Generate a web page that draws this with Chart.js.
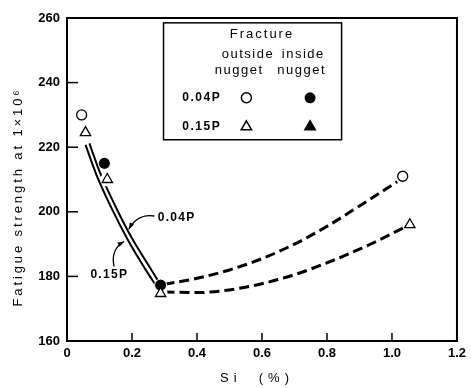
<!DOCTYPE html>
<html>
<head>
<meta charset="utf-8">
<script src="https://cdn.jsdelivr.net/npm/chart.js@4.4.1/dist/chart.umd.min.js"></script>
<style>
html, body { margin: 0; padding: 0; background: #fff; }
#wrap { width: 471px; height: 388px; }
</style>
</head>
<body>
<div id="wrap"><canvas id="myChart"></canvas></div>
<script>
const xTicks = [0, 0.2, 0.4, 0.6, 0.8, 1.0, 1.2];
const yTicks = [160, 180, 200, 220, 240, 260];

// test points
const out04X = [0.045, 1.033];
const out04Y = [230, 211];
const in04X = [0.115, 0.288];
const in04Y = [215, 177.3];
const out15X = [0.057, 0.124, 0.288, 1.055];
const out15Y = [224.5, 210, 174.7, 196];

// fitted curves
const solid04X = [0.069, 0.10, 0.15, 0.20, 0.25, 0.284];
const solid04Y = [221.2, 212.5, 201.5, 191.8, 183.6, 178.0];
const solid15X = [0.057, 0.09, 0.14, 0.19, 0.24, 0.276];
const solid15Y = [220.7, 211.6, 200.5, 190.8, 182.4, 176.8];
const dash04X = [0.30, 0.40, 0.50, 0.60, 0.70, 0.80, 0.90, 1.016];
const dash04Y = [177.6, 179.4, 182.0, 185.5, 190.0, 195.5, 201.8, 209.3];
const dash15X = [0.30, 0.40, 0.53, 0.68, 0.82, 0.93, 1.035];
const dash15Y = [175.2, 175.0, 176.3, 179.9, 185.0, 189.8, 195.0];

const FONT = '"Liberation Sans", Arial, sans-serif';

function pts(xs, ys) {
    const out = [];
    for (let i = 0; i < xs.length; i++) {
        out.push({x: xs[i], y: ys[i]});
    }
    return out;
}

function curve(xs, ys, dash, width) {
    return {
        data: pts(xs, ys),
        showLine: true,
        borderColor: '#000',
        borderWidth: width,
        borderDash: dash,
        pointRadius: 0,
        cubicInterpolationMode: 'monotone',
        fill: false,
        order: 3
    };
}

function arrow(ctx, x, y, a, b, c) {
    // quadratic curve from a to c, with arrow head at c
    const s = [x.getPixelForValue(a[0]), y.getPixelForValue(a[1])];
    const k = [x.getPixelForValue(b[0]), y.getPixelForValue(b[1])];
    const t = [x.getPixelForValue(c[0]), y.getPixelForValue(c[1])];
    ctx.beginPath();
    ctx.moveTo(s[0], s[1]);
    ctx.quadraticCurveTo(k[0], k[1], t[0], t[1]);
    ctx.lineWidth = 1.3;
    ctx.stroke();
    const ang = Math.atan2(t[1] - k[1], t[0] - k[0]);
    ctx.beginPath();
    ctx.moveTo(t[0], t[1]);
    ctx.lineTo(t[0] - 7 * Math.cos(ang - 0.35), t[1] - 7 * Math.sin(ang - 0.35));
    ctx.lineTo(t[0] - 7 * Math.cos(ang + 0.35), t[1] - 7 * Math.sin(ang + 0.35));
    ctx.closePath();
    ctx.fill();
}

const extras = {
    id: 'extras',
    afterDraw(chart) {
        const ctx = chart.ctx;
        const x = chart.scales.x;
        const y = chart.scales.y;
        const a = chart.chartArea;
        ctx.save();
        ctx.strokeStyle = '#000';
        ctx.fillStyle = '#000';

        // frame
        ctx.lineWidth = 2;
        ctx.strokeRect(a.left, a.top, a.right - a.left, a.bottom - a.top);

        // inward ticks
        ctx.lineWidth = 1.5;
        for (let i = 1; i < yTicks.length - 1; i++) {
            const py = y.getPixelForValue(yTicks[i]);
            ctx.beginPath();
            ctx.moveTo(a.left, py);
            ctx.lineTo(a.left + 11, py);
            ctx.stroke();
        }
        for (let i = 1; i < xTicks.length - 1; i++) {
            const px = x.getPixelForValue(xTicks[i]);
            ctx.beginPath();
            ctx.moveTo(px, a.bottom);
            ctx.lineTo(px, a.bottom - 8);
            ctx.stroke();
        }

        // legend box
        const bl = x.getPixelForValue(0.297), br = x.getPixelForValue(0.845);
        const bt = y.getPixelForValue(258.5), bb = y.getPixelForValue(222.3);
        ctx.fillStyle = '#fff';
        ctx.fillRect(bl, bt, br - bl, bb - bt);
        ctx.fillStyle = '#000';
        ctx.lineWidth = 1.5;
        ctx.strokeRect(bl, bt, br - bl, bb - bt);

        ctx.textBaseline = 'middle';
        ctx.textAlign = 'center';
        ctx.font = '13px ' + FONT;
        ctx.letterSpacing = '2px';
        ctx.fillText('Fracture', x.getPixelForValue(0.60), y.getPixelForValue(254.8));
        ctx.letterSpacing = '1.5px';
        ctx.fillText('outside', x.getPixelForValue(0.557), y.getPixelForValue(248.6));
        ctx.fillText('inside', x.getPixelForValue(0.727), y.getPixelForValue(248.6));
        ctx.fillText('nugget', x.getPixelForValue(0.53), y.getPixelForValue(243.7));
        ctx.fillText('nugget', x.getPixelForValue(0.722), y.getPixelForValue(243.7));
        ctx.textAlign = 'left';
        ctx.font = 'bold 12px ' + FONT;
        ctx.fillText('0.04P', x.getPixelForValue(0.355), y.getPixelForValue(235.3));
        ctx.fillText('0.15P', x.getPixelForValue(0.355), y.getPixelForValue(226.3));

        const mx1 = x.getPixelForValue(0.552), mx2 = x.getPixelForValue(0.748);
        const my1 = y.getPixelForValue(235.3), my2 = y.getPixelForValue(226.3);
        ctx.fillStyle = '#fff';
        Chart.helpers.drawPoint(ctx, {pointStyle: 'circle', radius: 5, borderWidth: 1.3}, mx1, my1);
        Chart.helpers.drawPoint(ctx, {pointStyle: 'triangle', radius: 6, borderWidth: 1.3}, mx1, my2);
        ctx.fillStyle = '#000';
        ctx.beginPath();
        ctx.arc(mx2, my1, 5.5, 0, Math.PI * 2);
        ctx.fill();
        Chart.helpers.drawPoint(ctx, {pointStyle: 'triangle', radius: 6, borderWidth: 1.3}, mx2, my2);

        // curve labels and arrows
        ctx.letterSpacing = '1.3px';
        ctx.fillText('0.04P', x.getPixelForValue(0.279), y.getPixelForValue(198.1));
        ctx.fillText('0.15P', x.getPixelForValue(0.072), y.getPixelForValue(180.4));
        arrow(ctx, x, y, [0.269, 198.7], [0.218, 199.6], [0.19, 194.6]);
        arrow(ctx, x, y, [0.145, 183.0], [0.133, 188.4], [0.176, 190.8]);

        // axis titles
        ctx.font = '13px ' + FONT;
        ctx.textAlign = 'center';
        ctx.letterSpacing = '2.9px';
        ctx.save();
        ctx.translate(18, 197);
        ctx.rotate(-Math.PI / 2);
        ctx.fillText('Fatigue strength at 1\u00d710\u2076', 0, 0);
        ctx.restore();
        ctx.letterSpacing = '5px';
        ctx.fillText('Si  (%)', 257, 378);
        ctx.restore();
    }
};

const ctx = document.getElementById('myChart').getContext('2d');
new Chart(ctx, {
    type: 'scatter',
    data: {
        datasets: [
            curve(solid04X, solid04Y, [], 2),
            curve(solid15X, solid15Y, [], 2),
            curve(dash04X, dash04Y, [10, 5], 3),
            curve(dash15X, dash15Y, [10, 5], 3),
            {
                // white halo that cuts the lines round the triangles
                data: pts(out15X, out15Y),
                pointStyle: 'circle',
                pointRadius: 7,
                pointBackgroundColor: '#fff',
                pointBorderWidth: 0,
                order: 2
            },
            {
                data: pts(out04X, out04Y),
                pointStyle: 'circle',
                pointRadius: 5,
                pointBackgroundColor: '#fff',
                pointBorderColor: '#000',
                pointBorderWidth: 1.3,
                order: 1
            },
            {
                data: pts(in04X, in04Y),
                pointStyle: 'circle',
                pointRadius: 6,
                pointBackgroundColor: '#000',
                pointBorderColor: '#fff',
                pointBorderWidth: 1,
                order: 1
            },
            {
                data: pts(out15X, out15Y),
                pointStyle: 'triangle',
                pointRadius: 6,
                pointBackgroundColor: '#fff',
                pointBorderColor: '#000',
                pointBorderWidth: 1.3,
                order: 0
            }
        ]
    },
    options: {
        responsive: true,
        maintainAspectRatio: false,
        animation: false,
        layout: {
            autoPadding: false,
            padding: {top: 18, right: 7, left: 0, bottom: 0}
        },
        plugins: {
            legend: {display: false},
            tooltip: {enabled: false}
        },
        scales: {
            x: {
                type: 'linear',
                min: 0,
                max: 1.2,
                afterBuildTicks: (s) => { s.ticks = xTicks.map(v => ({value: v})); },
                afterFit: (s) => { s.height = 47; },
                grid: {display: false, drawTicks: false},
                border: {display: false},
                ticks: {
                    padding: 5,
                    color: '#000',
                    font: {family: FONT, size: 13, weight: 'bold'},
                    maxRotation: 0,
                    callback: (v) => v === 0 ? '0' : v.toFixed(1)
                }
            },
            y: {
                type: 'linear',
                min: 160,
                max: 260,
                afterBuildTicks: (s) => { s.ticks = yTicks.map(v => ({value: v})); },
                afterFit: (s) => { s.width = 67; },
                grid: {display: false, drawTicks: false},
                border: {display: false},
                ticks: {
                    padding: 7,
                    color: '#000',
                    font: {family: FONT, size: 13, weight: 'bold'}
                }
            }
        }
    },
    plugins: [extras]
});
</script>
</body>
</html>
